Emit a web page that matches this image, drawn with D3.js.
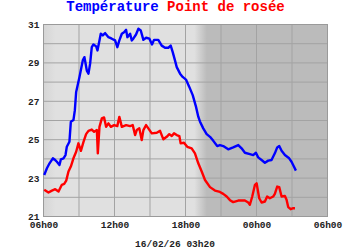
<!DOCTYPE html>
<html>
<head>
<meta charset="utf-8">
<script src="https://cdn.jsdelivr.net/npm/d3@7"></script>
<style>
  body { margin: 0; background: #fff; }
  text { font-family: "Liberation Mono", "Courier New", monospace; font-weight: bold; }
</style>
</head>
<body>
<div id="chart"></div>
<script>
// Hours elapsed since 06h00 and temperature readings (°C)
const tempHours = [0.06, 0.29, 0.51, 0.79, 0.99, 1.13, 1.35, 1.47, 1.69, 1.86, 1.97, 2.19, 2.31, 2.53, 2.65, 2.76,
  3.04, 3.32, 3.46, 3.66, 3.80, 3.94, 4.08, 4.22, 4.45, 4.56, 4.73, 4.84, 5.01, 5.21, 5.49, 5.77, 6.05, 6.24,
  6.41, 6.62, 6.81, 6.98, 7.09, 7.32, 7.46, 7.59, 7.82, 8.02, 8.22, 8.44, 8.67, 8.95, 9.17, 9.34, 9.70, 9.99,
  10.27, 10.55, 10.75, 10.92, 11.11, 11.26, 11.54, 11.76, 12.04, 12.32, 12.61, 12.89, 13.08, 13.22, 13.50,
  13.79, 14.07, 14.35, 14.68, 14.91, 15.19, 15.61, 16.03, 16.46, 16.74, 17.02, 17.44, 17.72, 17.95, 18.14,
  18.43, 18.71, 18.99, 19.27, 19.55, 19.75, 19.92, 20.12, 20.40, 20.76, 20.96, 21.16, 21.33];
const tempValues = [23.16, 23.51, 23.77, 24.03, 23.94, 23.85, 23.68, 23.98, 24.03, 24.2, 24.63, 24.89, 25.93, 26.02, 26.54, 27.49,
  28.27, 29.13, 29.3, 28.6, 28.44, 28.96, 29.82, 29.96, 29.86, 29.65, 30.17, 30.52, 30.43, 30.55, 30.34, 30.26, 30.17, 29.82,
  30.17, 30.52, 30.6, 30.72, 30.34, 30.52, 30.17, 30.26, 30.48, 30.78, 30.69, 30.2, 30.31, 30.26, 29.96, 30.2, 30.2, 29.9,
  29.79, 29.79, 29.9, 29.56, 29.13, 28.78, 28.44, 28.27, 28.13, 27.75, 27.32, 26.71, 26.2, 25.95, 25.59,
  25.29, 25.15, 24.94, 24.67, 24.72, 24.67, 24.5, 24.6, 24.72, 24.55, 24.32, 24.25, 24.2, 24.32, 24.08,
  23.94, 23.8, 23.91, 23.94, 24.29, 24.6, 24.67, 24.42, 24.2, 24.03, 23.85, 23.6, 23.39];

// Hours elapsed since 06h00 and dew point readings (°C)
const dewHours = [0.06, 0.42, 0.71, 0.99, 1.27, 1.55, 1.75, 1.92, 2.11, 2.31, 2.53, 2.76, 2.95, 3.16, 3.38, 3.60,
  3.80, 4.08, 4.28, 4.51, 4.59, 4.73, 4.93, 5.12, 5.29, 5.49, 5.69, 5.97, 6.24, 6.41, 6.62, 6.98, 7.32, 7.54,
  7.74, 7.88, 8.10, 8.30, 8.44, 8.67, 8.86, 9.15, 9.57, 9.85, 10.13, 10.41, 10.63, 10.84, 11.03, 11.26, 11.48,
  11.59, 11.87, 12.15, 12.52, 12.80, 13.08, 13.37, 13.65, 14.07, 14.49, 14.91, 15.19, 15.48, 15.76, 16.03,
  16.46, 17.02, 17.30, 17.44, 17.64, 17.87, 18.01, 18.23, 18.43, 18.71, 18.90, 19.13, 19.41, 19.55, 19.75,
  19.92, 20.12, 20.40, 20.54, 20.68, 20.89, 21.11, 21.25];
const dewValues = [22.39, 22.25, 22.35, 22.42, 22.3, 22.65, 22.7, 22.87, 23.34, 23.6, 24.03, 24.37, 24.81, 24.42, 24.89, 25.29,
  25.46, 25.53, 25.41, 25.5, 24.29, 25.67, 26.11, 26.16, 25.67, 25.85, 25.67, 25.76, 25.71, 26.19, 25.67, 25.76, 25.71, 25.76,
  25.24, 25.5, 25.59, 24.98, 25.5, 25.76, 25.59, 25.33, 25.36, 25.46, 25.02, 25.15, 25.29, 25.19, 25.33, 25.24, 25.19,
  24.81, 24.84, 24.63, 24.55, 24.29, 23.77, 23.34, 22.9, 22.53, 22.35, 22.28, 22.18, 22.04, 21.85, 21.75,
  21.83, 21.83, 21.73, 21.61, 22.04, 22.65, 22.73, 21.95, 21.73, 21.78, 22.04, 21.95, 22.04, 22.18, 22.56,
  22.53, 22.04, 22.07, 21.87, 21.49, 21.38, 21.43, 21.43];

// Axis ticks
const xTickHours = [0, 6, 12, 18, 24];
const xTickLabels = ["06h00", "12h00", "18h00", "00h00", "06h00"];
const yTicks = [21, 23, 25, 27, 29, 31];

const width = 350;
const height = 250;
const plot = { left: 43.5, right: 327.5, top: 24.5, bottom: 216.5 };

const svg = d3.select("#chart")
  .append("svg")
  .attr("width", width)
  .attr("height", height);

const xScale = d3.scaleLinear().domain([0, 24]).range([plot.left, plot.right]);
const yScale = d3.scaleLinear().domain([21, 31]).range([plot.bottom, plot.top]);

// Day / night shading of the plot background
const grad = svg.append("defs").append("linearGradient")
  .attr("id", "daynight")
  .attr("gradientUnits", "userSpaceOnUse")
  .attr("x1", plot.left).attr("x2", plot.right)
  .attr("y1", 0).attr("y2", 0);

const span = plot.right - plot.left;
[[0, "#d5d5d5"], [1.0, "#e0e0e0"], [12.75, "#e0e0e0"], [13.8, "#bbbbbb"], [24, "#bbbbbb"]].forEach(([h, c]) => {
  grad.append("stop")
    .attr("offset", (xScale(h) - plot.left) / span)
    .attr("stop-color", c);
});

svg.append("rect")
  .attr("x", plot.left)
  .attr("y", plot.top)
  .attr("width", span)
  .attr("height", plot.bottom - plot.top)
  .attr("fill", "url(#daynight)");

// Grid lines every 3 hours and every degree
svg.append("g")
  .selectAll("line")
  .data(d3.range(0, 25, 3))
  .enter()
  .append("line")
  .attr("x1", d => xScale(d)).attr("x2", d => xScale(d))
  .attr("y1", plot.top).attr("y2", plot.bottom)
  .attr("stroke", "#a3a3a3")
  .attr("stroke-width", 1);

svg.append("g")
  .selectAll("line")
  .data(d3.range(21, 32, 1))
  .enter()
  .append("line")
  .attr("x1", plot.left).attr("x2", plot.right)
  .attr("y1", d => yScale(d)).attr("y2", d => yScale(d))
  .attr("stroke", "#a3a3a3")
  .attr("stroke-width", 1);

svg.append("rect")
  .attr("x", plot.left)
  .attr("y", plot.top)
  .attr("width", span)
  .attr("height", plot.bottom - plot.top)
  .attr("fill", "none")
  .attr("stroke", "#9a9a9a")
  .attr("stroke-width", 1);

// Lines
const line = d3.line()
  .x(d => xScale(d[0]))
  .y(d => yScale(d[1]));

svg.append("path")
  .datum(dewHours.map((h, i) => [h, dewValues[i]]))
  .attr("fill", "none")
  .attr("stroke", "#ff0000")
  .attr("stroke-width", 2.4)
  .attr("stroke-linejoin", "round")
  .attr("d", line);

svg.append("path")
  .datum(tempHours.map((h, i) => [h, tempValues[i]]))
  .attr("fill", "none")
  .attr("stroke", "#0000ff")
  .attr("stroke-width", 2.4)
  .attr("stroke-linejoin", "round")
  .attr("d", line);

// Y axis labels
const yAxis = svg.append("g")
  .attr("transform", `translate(${plot.left - 4}, 0)`)
  .call(d3.axisLeft(yScale).tickValues(yTicks).tickSize(0).tickPadding(0));
yAxis.select(".domain").remove();
yAxis.selectAll("text")
  .attr("font-size", 9.5)
  .attr("font-family", "'Liberation Mono', 'Courier New', monospace")
  .attr("font-weight", "bold")
  .attr("fill", "#222");

// X axis labels
const xAxis = svg.append("g")
  .attr("transform", `translate(0, ${plot.bottom + 5})`)
  .call(d3.axisBottom(xScale).tickValues(xTickHours).tickFormat((d, i) => xTickLabels[i]).tickSize(0).tickPadding(0));
xAxis.select(".domain").remove();
xAxis.selectAll("text")
  .attr("font-size", 9.5)
  .attr("font-family", "'Liberation Mono', 'Courier New', monospace")
  .attr("font-weight", "bold")
  .attr("fill", "#222");

// Title
const title = svg.append("text")
  .attr("x", 175.5)
  .attr("y", 11)
  .attr("text-anchor", "middle")
  .attr("font-size", 14);
title.append("tspan").attr("fill", "#0000ff").text("Température");
title.append("tspan").attr("fill", "#ff0000").text(" Point de rosée");

// Date stamp
svg.append("text")
  .attr("x", 175)
  .attr("y", 247)
  .attr("text-anchor", "middle")
  .attr("font-size", 9.5)
  .attr("fill", "#222")
  .text("16/02/26 03h20");
</script>
</body>
</html>
